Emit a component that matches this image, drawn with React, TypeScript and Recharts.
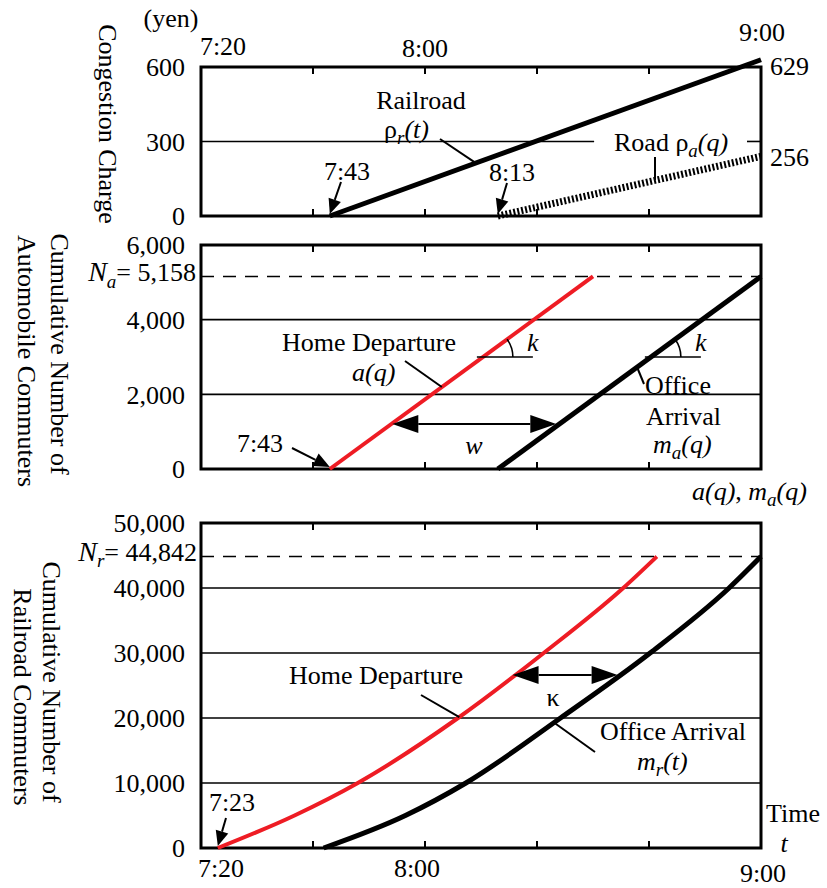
import React from "react";
import { LineChart, Line, XAxis, YAxis, ReferenceLine, ReferenceArea } from "recharts";

// time is minutes after 7:00
const timeTicks = [20, 60, 120];
const timeLabels: Record<number, string> = { 20: "7:20", 60: "8:00", 120: "9:00" };
const minorTicks = [40, 60, 80, 100];

// congestion charge (yen)
const chargeTicks = [0, 300, 600];
const railCharge = [
  { t: 43, v: 0 },
  { t: 120, v: 629 },
];
const roadCharge = [
  { t: 73, v: 0 },
  { t: 120, v: 240 },
];

// automobile commuters
const autoTicks = [0, 2000, 4000, 6000];
const autoGrid = [2000, 4000];
const autoTotal = 5158;
const autoDeparture = [
  { t: 43, v: 0 },
  { t: 90, v: 5158 },
];
const autoArrival = [
  { t: 73, v: 0 },
  { t: 120, v: 5158 },
];

// railroad commuters
const railTicks = [0, 10000, 20000, 30000, 40000, 50000];
const railGrid = [10000, 20000, 30000, 40000];
const railTotal = 44842;
const railDeparture = [
  { t: 23, v: 0 },
  { t: 36.7, v: 5000 },
  { t: 48, v: 10000 },
  { t: 65.9, v: 20000 },
  { t: 81.2, v: 30000 },
  { t: 95.4, v: 40000 },
  { t: 101.4, v: 44842 },
];
const railArrival = [
  { t: 41.9, v: 0 },
  { t: 56.5, v: 5000 },
  { t: 67.3, v: 10000 },
  { t: 84.2, v: 20000 },
  { t: 100.2, v: 30000 },
  { t: 114.3, v: 40000 },
  { t: 120, v: 44842 },
];

const FONT = '"Liberation Serif", "Times New Roman", Times, serif';
const FS = 26;
const RED = "#ee1c24";

const PLOT_L = 201;
const PLOT_R = 761;
const MARGIN_L = 141;
const MARGIN_R = 827 - PLOT_R;

// pixel helpers for the annotation layer (same geometry as the charts)
const X = (t: number) => PLOT_L + ((t - 20) * (PLOT_R - PLOT_L)) / 100;
const Y1 = (v: number) => 216 - (v * 159) / 640;
const Y2 = (v: number) => 469 - (v * 224) / 6000;
const Y3 = (v: number) => 848 - (v * 325) / 50000;

// time on a series at a given cumulative value
function timeAt(series: { t: number; v: number }[], v: number) {
  for (let i = 1; i < series.length; i++) {
    const a = series[i - 1];
    const b = series[i];
    if (v <= b.v) return a.t + ((v - a.v) / (b.v - a.v)) * (b.t - a.t);
  }
  return series[series.length - 1].t;
}

const tickStyle = { fontFamily: FONT, fontSize: FS, fill: "#000" };
const fmt = (v: number) => v.toLocaleString("en-US");

function makeTimeTick(pos: Record<number, [number, number]>) {
  return (props: any) => {
    const { x, payload } = props;
    const p = pos[payload.value];
    if (!p) return <g />;
    return (
      <text
        x={x + p[0]}
        y={p[1]}
        textAnchor="middle"
        dominantBaseline="central"
        style={tickStyle}
      >
        {timeLabels[payload.value]}
      </text>
    );
  };
}

const TopTick = makeTimeTick({ 20: [22, 46], 60: [0, 48], 120: [1, 32] });
const BottomTick = makeTimeTick({ 20: [20, 368], 60: [-8, 368], 120: [2, 373] });

function yAxis(domain: number[], ticks: number[]) {
  return (
    <YAxis
      type="number"
      domain={domain}
      ticks={ticks}
      interval={0}
      width={60}
      axisLine={false}
      tickLine={false}
      tickSize={0}
      tickMargin={16}
      tick={tickStyle}
      tickFormatter={fmt}
    />
  );
}

function frame(top: number, tickLen: number) {
  return [
    <ReferenceArea
      key="frame"
      x1={20}
      x2={120}
      y1={0}
      y2={top}
      fill="none"
      fillOpacity={0}
      stroke="#000"
      strokeWidth={3}
      ifOverflow="visible"
    />,
    ...minorTicks.map((t) => (
      <ReferenceLine
        key={"tt" + t}
        segment={[
          { x: t, y: top },
          { x: t, y: top - tickLen },
        ]}
        stroke="#000"
        strokeWidth={2}
      />
    )),
    ...minorTicks.map((t) => (
      <ReferenceLine
        key={"bt" + t}
        segment={[
          { x: t, y: 0 },
          { x: t, y: tickLen },
        ]}
        stroke="#000"
        strokeWidth={2}
      />
    )),
  ];
}

function Arrow({ x1, y1, x2, y2, len = 15, half = 6.5, w = 2 }: any) {
  const dx = x2 - x1;
  const dy = y2 - y1;
  const d = Math.hypot(dx, dy);
  const ux = dx / d;
  const uy = dy / d;
  const bx = x2 - ux * len;
  const by = y2 - uy * len;
  const px = -uy * half;
  const py = ux * half;
  return (
    <g>
      <line x1={x1} y1={y1} x2={bx} y2={by} stroke="#000" strokeWidth={w} />
      <polygon points={`${x2},${y2} ${bx + px},${by + py} ${bx - px},${by - py}`} fill="#000" />
    </g>
  );
}

function DoubleArrow({ x1, x2, y, len = 26, half = 9 }: any) {
  return (
    <g>
      <line x1={x1 + len} y1={y} x2={x2 - len} y2={y} stroke="#000" strokeWidth={2} />
      <polygon points={`${x1},${y} ${x1 + len},${y - half} ${x1 + len},${y + half}`} fill="#000" />
      <polygon points={`${x2},${y} ${x2 - len},${y - half} ${x2 - len},${y + half}`} fill="#000" />
    </g>
  );
}

function Angle({ x, y, slopeDeg, label }: any) {
  const r = 30;
  const a = (slopeDeg * Math.PI) / 180;
  return (
    <g>
      <line x1={x - 6} y1={y} x2={x + 50} y2={y} stroke="#000" strokeWidth={1.6} />
      <path
        d={`M ${x + r} ${y} A ${r} ${r} 0 0 0 ${x + r * Math.cos(a)} ${y - r * Math.sin(a)}`}
        fill="none"
        stroke="#000"
        strokeWidth={1.6}
      />
      <text x={x + 44} y={y - 15} fontStyle="italic" dominantBaseline="central">
        {label}
      </text>
    </g>
  );
}

function Overlay() {
  const autoSlope = (Math.atan2(Y2(0) - Y2(autoTotal), X(90) - X(43)) * 180) / Math.PI;
  const kv = 3000;
  const wv = 1205;
  const kappaV = 26600;
  return (
    <svg
      width={827}
      height={888}
      style={{ position: "absolute", left: 0, top: 0, pointerEvents: "none", overflow: "visible" }}
      fontFamily={FONT}
      fontSize={FS}
      fill="#000"
    >
      {/* panel 1 */}
      <text x={171} y={18} textAnchor="middle" dominantBaseline="central">(yen)</text>
      <text transform="translate(107,124) rotate(90)" textAnchor="middle" dominantBaseline="central">
        Congestion Charge
      </text>
      <text x={421} y={100} textAnchor="middle" dominantBaseline="central">Railroad</text>
      <text x={384} y={138}>
        ρ<tspan fontStyle="italic" fontSize={19} dy={6}>r</tspan>
        <tspan fontStyle="italic" dy={-6}>(t)</tspan>
      </text>
      <line x1={440} y1={139} x2={X(69.1)} y2={Y1(213)} stroke="#000" strokeWidth={2} />
      <text x={347} y={171} textAnchor="middle" dominantBaseline="central">7:43</text>
      <Arrow x1={341} y1={182} x2={X(43)} y2={Y1(0) - 2} />
      <text x={512} y={172} textAnchor="middle" dominantBaseline="central">8:13</text>
      <Arrow x1={507} y1={183} x2={X(73)} y2={Y1(0) - 2} />
      <text x={614} y={151}>
        Road ρ<tspan fontStyle="italic" fontSize={19} dy={6}>a</tspan>
        <tspan fontStyle="italic" dy={-6}>(q)</tspan>
      </text>
      <line x1={655} y1={157} x2={655} y2={180} stroke="#000" strokeWidth={2} />
      <text x={770} y={66} dominantBaseline="central">629</text>
      <text x={770} y={157} dominantBaseline="central">256</text>

      {/* panel 2 */}
      <text transform="translate(59,354) rotate(90)" textAnchor="middle" dominantBaseline="central">
        Cumulative Number of
      </text>
      <text transform="translate(26,361) rotate(90)" textAnchor="middle" dominantBaseline="central">
        Automobile Commuters
      </text>
      <text x={196} y={Y2(autoTotal) + 5} textAnchor="end">
        <tspan fontStyle="italic" fontSize={28}>N</tspan>
        <tspan fontStyle="italic" fontSize={19} dy={7}>a</tspan>
        <tspan dy={-7}>= 5,158</tspan>
      </text>
      <text x={282} y={342} dominantBaseline="central">Home Departure</text>
      <text x={352} y={372} fontStyle="italic" dominantBaseline="central">a(q)</text>
      <line x1={405} y1={361} x2={X(63)} y2={Y2(2195)} stroke="#000" strokeWidth={2} />
      <Angle x={X(timeAt(autoDeparture, kv))} y={Y2(kv)} slopeDeg={autoSlope} label="k" />
      <Angle x={X(timeAt(autoArrival, kv))} y={Y2(kv)} slopeDeg={autoSlope} label="k" />
      <line x1={637} y1={367} x2={644} y2={384} stroke="#000" strokeWidth={2} />
      <text x={645} y={385} dominantBaseline="central">Office</text>
      <text x={646} y={416} dominantBaseline="central">Arrival</text>
      <text x={653} y={453}>
        <tspan fontStyle="italic">m</tspan>
        <tspan fontStyle="italic" fontSize={19} dy={6}>a</tspan>
        <tspan fontStyle="italic" dy={-6}>(q)</tspan>
      </text>
      <DoubleArrow x1={X(timeAt(autoDeparture, wv)) + 1} x2={X(timeAt(autoArrival, wv)) - 3} y={Y2(wv)} />
      <text x={474} y={445} textAnchor="middle" fontStyle="italic" dominantBaseline="central">w</text>
      <text x={260} y={443} textAnchor="middle" dominantBaseline="central">7:43</text>
      <Arrow x1={292} y1={448} x2={X(43)} y2={Y2(0) - 2} len={16} half={7} />
      <text x={692} y={500} fontStyle="italic">
        a(q)<tspan fontStyle="normal">, </tspan>m
        <tspan fontSize={19} dy={6}>a</tspan>
        <tspan dy={-6}>(q)</tspan>
      </text>

      {/* panel 3 */}
      <text transform="translate(51,682) rotate(90)" textAnchor="middle" dominantBaseline="central">
        Cumulative Number of
      </text>
      <text transform="translate(22,697) rotate(90)" textAnchor="middle" dominantBaseline="central">
        Railroad Commuters
      </text>
      <text x={197} y={Y3(railTotal) + 4} textAnchor="end">
        <tspan fontStyle="italic" fontSize={28}>N</tspan>
        <tspan fontStyle="italic" fontSize={19} dy={6}>r</tspan>
        <tspan dy={-6}>= 44,842</tspan>
      </text>
      <text x={289} y={675} dominantBaseline="central">Home Departure</text>
      <line x1={421} y1={695} x2={X(timeAt(railDeparture, 20150))} y2={Y3(20150)} stroke="#000" strokeWidth={2} />
      <DoubleArrow
        x1={X(timeAt(railDeparture, kappaV)) - 2}
        x2={X(timeAt(railArrival, kappaV)) - 2}
        y={Y3(kappaV)}
      />
      <text x={553} y={697} textAnchor="middle" dominantBaseline="central">κ</text>
      <text x={600} y={731} dominantBaseline="central">Office Arrival</text>
      <text x={637} y={770}>
        <tspan fontStyle="italic">m</tspan>
        <tspan fontStyle="italic" fontSize={19} dy={6}>r</tspan>
        <tspan fontStyle="italic" dy={-6}>(t)</tspan>
      </text>
      <line x1={595} y1={752} x2={X(timeAt(railArrival, 19300))} y2={Y3(19300)} stroke="#000" strokeWidth={2} />
      <text x={232} y={802} textAnchor="middle" dominantBaseline="central">7:23</text>
      <Arrow x1={226} y1={818} x2={X(23)} y2={Y3(0) - 2} len={15} half={6.5} />
      <text x={766} y={813} dominantBaseline="central">Time</text>
      <text x={784} y={843} textAnchor="middle" fontStyle="italic" dominantBaseline="central">t</text>
    </svg>
  );
}

export default function App() {
  const xAxisProps = {
    type: "number" as const,
    dataKey: "t",
    domain: [20, 120],
    ticks: timeTicks,
    interval: 0 as const,
    axisLine: false,
    tickLine: false,
  };
  return (
    <div style={{ position: "absolute", left: 0, top: 0, width: 827, height: 888, background: "#fff" }}>
      <div style={{ position: "absolute", left: 0, top: 0 }}>
        <LineChart width={827} height={240} margin={{ top: 27, right: MARGIN_R, bottom: 24, left: MARGIN_L }}>
          <XAxis {...xAxisProps} orientation="top" height={30} tick={TopTick} />
          {yAxis([0, 640], chargeTicks)}
          {frame(600, 28)}
          <ReferenceLine segment={[{ x: 20, y: 300 }, { x: 90.2, y: 300 }]} stroke="#000" strokeWidth={1.6} />
          <ReferenceLine segment={[{ x: 117.5, y: 300 }, { x: 120, y: 300 }]} stroke="#000" strokeWidth={1.6} />
          <Line
            data={railCharge}
            dataKey="v"
            type="linear"
            stroke="#000"
            strokeWidth={5}
            dot={false}
            isAnimationActive={false}
          />
          <Line
            data={roadCharge}
            dataKey="v"
            type="linear"
            stroke="#000"
            strokeWidth={7}
            strokeDasharray="2 2"
            dot={false}
            isAnimationActive={false}
          />
        </LineChart>
      </div>

      <div style={{ position: "absolute", left: 0, top: 230 }}>
        <LineChart width={827} height={260} margin={{ top: 15, right: MARGIN_R, bottom: 21, left: MARGIN_L }}>
          <XAxis {...xAxisProps} hide />
          {yAxis([0, 6000], autoTicks)}
          {frame(6000, 187)}
          {autoGrid.map((g) => (
            <ReferenceLine key={g} y={g} stroke="#000" strokeWidth={1.6} />
          ))}
          <ReferenceLine y={autoTotal} stroke="#000" strokeWidth={1.6} strokeDasharray="13 9" />
          <Line
            data={autoDeparture}
            dataKey="v"
            type="linear"
            stroke={RED}
            strokeWidth={4}
            dot={false}
            isAnimationActive={false}
          />
          <Line
            data={autoArrival}
            dataKey="v"
            type="linear"
            stroke="#000"
            strokeWidth={5}
            dot={false}
            isAnimationActive={false}
          />
        </LineChart>
      </div>

      <div style={{ position: "absolute", left: 0, top: 500 }}>
        <LineChart width={827} height={388} margin={{ top: 23, right: MARGIN_R, bottom: 0, left: MARGIN_L }}>
          <XAxis {...xAxisProps} orientation="bottom" height={40} tick={BottomTick} />
          {yAxis([0, 50000], railTicks)}
          {frame(50000, 1077)}
          {railGrid.map((g) => (
            <ReferenceLine key={g} y={g} stroke="#000" strokeWidth={1.6} />
          ))}
          <ReferenceLine y={railTotal} stroke="#000" strokeWidth={1.6} strokeDasharray="13 9" />
          <Line
            data={railDeparture}
            dataKey="v"
            type="monotone"
            stroke={RED}
            strokeWidth={4}
            dot={false}
            isAnimationActive={false}
          />
          <Line
            data={railArrival}
            dataKey="v"
            type="monotone"
            stroke="#000"
            strokeWidth={5}
            dot={false}
            isAnimationActive={false}
          />
        </LineChart>
      </div>

      <Overlay />
    </div>
  );
}
